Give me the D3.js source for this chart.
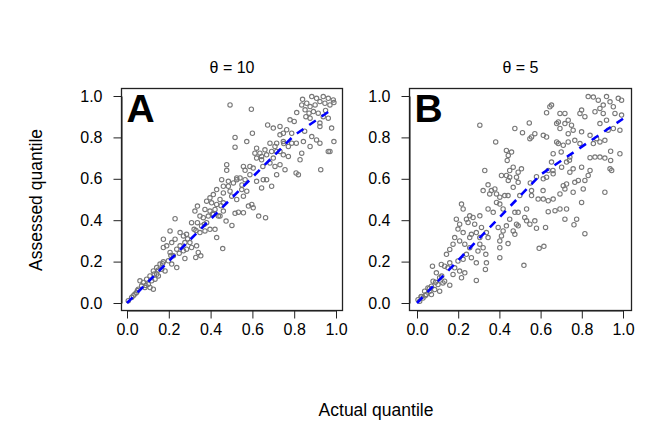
<!DOCTYPE html>
<html>
<head>
<meta charset="utf-8">
<script src="https://cdn.jsdelivr.net/npm/d3@7"></script>
<style>
  body { margin: 0; background: #fff; }
  text { font-family: "Liberation Sans", Arial, sans-serif; fill: #000; }
</style>
</head>
<body>
<svg width="664" height="443"></svg>
<script>
const svg = d3.select('svg')

const tickValues = [0, 0.2, 0.4, 0.6, 0.8, 1.0]

// panel A, theta = 10
const actualA = [0.84, 0.884, 0.907, 0.939, 0.963, 0.987, 0.99, 0.86, 0.876, 0.9, 0.923, 0.947, 0.971, 0.852, 0.871, 0.892, 0.915, 0.939, 0.963, 0.979, 0.876, 0.856, 0.923, 0.812, 0.836, 0.99, 0.963, 0.971, 0.927, 0.923,
  0.493, 0.595, 0.673, 0.70, 0.60, 0.517, 0.517, 0.573, 0.78, 0.80, 0.764, 0.788, 0.732, 0.716, 0.748, 0.772, 0.81, 0.844, 0.884, 0.907, 0.923, 0.876, 0.836, 0.828, 0.809, 0.82,
  0.62, 0.636, 0.66, 0.684, 0.708, 0.716, 0.644, 0.684, 0.708, 0.732, 0.756, 0.716, 0.652, 0.62, 0.668, 0.692, 0.644, 0.604, 0.588, 0.557, 0.565, 0.541, 0.525,
  0.477, 0.477, 0.453, 0.461, 0.485, 0.493, 0.509, 0.501, 0.525, 0.549, 0.573, 0.557, 0.581, 0.597, 0.604, 0.63, 0.663, 0.557, 0.533, 0.517, 0.502, 0.474, 0.445, 0.461,
  0.429, 0.413, 0.397, 0.381, 0.405, 0.429, 0.445, 0.461, 0.421, 0.397, 0.373, 0.389, 0.413, 0.437, 0.337, 0.325, 0.349, 0.365, 0.381, 0.357, 0.337, 0.309, 0.321, 0.349, 0.373, 0.397, 0.421, 0.429,
  0.23, 0.206, 0.174, 0.19, 0.214, 0.23, 0.254, 0.27, 0.285, 0.301, 0.277, 0.254, 0.238, 0.27, 0.285, 0.309, 0.333, 0.341, 0.329, 0.353, 0.277, 0.458,
  0.174, 0.206, 0.222, 0.198, 0.174, 0.158, 0.142, 0.126, 0.166, 0.238, 0.214, 0.182, 0.142, 0.11, 0.094, 0.078, 0.07, 0.054, 0.038, 0.022, 0.006, 0.102, 0.118, 0.126, 0.11, 0.134, 0.15, 0.062, 0.086, 0.046,
  0.461, 0.485, 0.525, 0.565, 0.588, 0.62, 0.612, 0.644, 0.668, 0.692, 0.70, 0.732, 0.748, 0.772, 0.788, 0.748, 0.732,
  0.03, 0.05, 0.09, 0.13, 0.15, 0.17, 0.21, 0.25, 0.29, 0.33, 0.37, 0.41, 0.45, 0.55, 0.65, 0.75, 0.85, 0.95]
const assessedA = [0.984, 0.997, 0.989, 0.997, 0.989, 0.981, 0.968, 0.965, 0.949, 0.957, 0.973, 0.965, 0.957, 0.933, 0.917, 0.925, 0.917, 0.90, 0.893, 0.845, 0.893, 0.90, 0.869, 0.92, 0.957, 0.78, 0.732, 0.732, 0.644, 0.853,
  0.957, 0.936, 0.86, 0.845, 0.82, 0.80, 0.753, 0.78, 0.885, 0.877, 0.837, 0.82, 0.8125, 0.772, 0.78, 0.756, 0.772, 0.78, 0.804, 0.788, 0.772, 0.756, 0.724, 0.692, 0.628, 0.62,
  0.748, 0.724, 0.74, 0.772, 0.756, 0.732, 0.692, 0.676, 0.66, 0.668, 0.644, 0.62, 0.596, 0.588, 0.596, 0.564, 0.556, 0.652, 0.62, 0.66, 0.596, 0.604, 0.596,
  0.668, 0.641, 0.596, 0.564, 0.564, 0.54, 0.58, 0.516, 0.50, 0.548, 0.54, 0.516, 0.468, 0.476, 0.46, 0.42, 0.412, 0.436, 0.439, 0.433, 0.375, 0.396, 0.42, 0.444,
  0.548, 0.524, 0.508, 0.492, 0.484, 0.476, 0.50, 0.484, 0.452, 0.444, 0.452, 0.42, 0.428, 0.42, 0.468, 0.444, 0.42, 0.412, 0.388, 0.372, 0.388, 0.388, 0.356, 0.34, 0.348, 0.356, 0.356, 0.316,
  0.407, 0.348, 0.308, 0.276, 0.292, 0.308, 0.34, 0.324, 0.332, 0.292, 0.292, 0.276, 0.26, 0.252, 0.26, 0.268, 0.276, 0.244, 0.22, 0.228, 0.215, 0.263,
  0.268, 0.244, 0.228, 0.204, 0.199, 0.188, 0.171, 0.155, 0.163, 0.171, 0.188, 0.155, 0.139, 0.131, 0.115, 0.099, 0.083, 0.067, 0.043, 0.027, 0.011, 0.091, 0.107, 0.067, 0.075, 0.115, 0.131, 0.107, 0.075, 0.051,
  0.532, 0.588, 0.604, 0.641, 0.66, 0.70, 0.724, 0.708, 0.716, 0.732, 0.70, 0.732, 0.716, 0.708, 0.772, 0.82, 0.853,
  0.035, 0.06, 0.085, 0.14, 0.16, 0.19, 0.23, 0.24, 0.31, 0.35, 0.38, 0.43, 0.47, 0.57, 0.66, 0.77, 0.83, 0.93]

// panel B, theta = 5
const actualB = [0.831, 0.856, 0.88, 0.92, 0.937, 0.977, 0.993, 0.904, 0.953, 0.888, 0.864, 0.904, 0.799, 0.791, 0.815, 0.993, 0.961, 0.92, 0.888, 0.953, 0.985, 0.928, 0.912, 0.888, 0.856, 0.872, 0.84, 0.799,
  0.985, 0.94, 0.94, 0.912, 0.888, 0.864, 0.84, 0.937, 0.945, 0.912, 0.815, 0.799, 0.762, 0.775, 0.718, 0.726, 0.694, 0.67, 0.637, 0.637, 0.661, 0.613, 0.588, 0.556, 0.556, 0.612,
  0.694, 0.758, 0.718, 0.71, 0.726, 0.766, 0.783, 0.815, 0.807, 0.831, 0.84, 0.799, 0.758, 0.742, 0.726, 0.742, 0.702, 0.661, 0.629, 0.613, 0.653, 0.661, 0.686, 0.678, 0.71, 0.734, 0.766, 0.791,
  0.734, 0.758, 0.694, 0.718, 0.686, 0.678, 0.694, 0.718, 0.734, 0.75, 0.629, 0.645, 0.653, 0.613, 0.629, 0.572, 0.556, 0.548, 0.545, 0.512, 0.475, 0.305, 0.382,
  0.434, 0.459, 0.443, 0.438, 0.45, 0.467, 0.491, 0.507, 0.41, 0.434, 0.45, 0.483, 0.491, 0.467, 0.443, 0.329, 0.345, 0.321, 0.361, 0.378, 0.386, 0.353, 0.402, 0.426, 0.442, 0.499,
  0.402, 0.386, 0.345, 0.37, 0.418, 0.475, 0.491, 0.532, 0.523, 0.532, 0.483, 0.491, 0.45, 0.434, 0.418, 0.394, 0.467, 0.475, 0.442, 0.41, 0.402, 0.402, 0.402, 0.519, 0.58, 0.624, 0.593, 0.616, 0.572, 0.548,
  0.216, 0.224, 0.191, 0.207, 0.24, 0.256, 0.272, 0.305, 0.248, 0.28, 0.313, 0.288, 0.264, 0.224, 0.337, 0.345, 0.305, 0.321, 0.296, 0.334, 0.337, 0.288, 0.332, 0.288,
  0.232, 0.256, 0.24, 0.264, 0.224, 0.199, 0.175, 0.159, 0.143, 0.118, 0.134, 0.159, 0.183, 0.207, 0.232, 0.216, 0.175, 0.159, 0.134, 0.11, 0.075, 0.094, 0.126, 0.102, 0.086, 0.07, 0.062, 0.045, 0.029, 0.013,
  0.053, 0.037, 0.078, 0.11, 0.07, 0.021, 0.005, 0.183, 0.207, 0.256, 0.305, 0.199,
  0.637, 0.66, 0.55, 0.58, 0.70, 0.74, 0.02, 0.04, 0.06, 0.09, 0.12, 0.15]
const assessedB = [0.997, 0.995, 0.98, 0.997, 0.972, 0.989, 0.98, 0.956, 0.948, 0.94, 0.924, 0.916, 0.932, 0.916, 0.90, 0.908, 0.916, 0.883, 0.867, 0.843, 0.835, 0.835, 0.786, 0.778, 0.77, 0.794, 0.81, 0.827,
  0.721, 0.733, 0.689, 0.70, 0.705, 0.705, 0.702, 0.648, 0.64, 0.535, 0.335, 0.486, 0.378, 0.405, 0.405, 0.454, 0.454, 0.446, 0.441, 0.494, 0.502, 0.502, 0.502, 0.519, 0.543, 0.543,
  0.527, 0.535, 0.551, 0.567, 0.575, 0.583, 0.592, 0.592, 0.551, 0.616, 0.64, 0.656, 0.648, 0.632, 0.681, 0.705, 0.656, 0.624, 0.608, 0.60, 0.681, 0.721, 0.77, 0.778, 0.762, 0.778, 0.786, 0.77,
  0.818, 0.835, 0.843, 0.867, 0.875, 0.867, 0.916, 0.916, 0.883, 0.859, 0.919, 0.948, 0.956, 0.81, 0.802, 0.818, 0.802, 0.794, 0.87, 0.823, 0.843, 0.859, 0.778,
  0.737, 0.729, 0.713, 0.689, 0.64, 0.656, 0.632, 0.648, 0.616, 0.616, 0.608, 0.608, 0.583, 0.559, 0.592, 0.64, 0.571, 0.543, 0.543, 0.551, 0.527, 0.527, 0.511, 0.519, 0.519, 0.519,
  0.478, 0.486, 0.454, 0.438, 0.454, 0.438, 0.438, 0.454, 0.413, 0.397, 0.381, 0.373, 0.405, 0.373, 0.348, 0.365, 0.348, 0.332, 0.287, 0.324, 0.30, 0.267, 0.219, 0.182, 0.361, 0.365, 0.264, 0.274, 0.397, 0.381,
  0.478, 0.454, 0.405, 0.381, 0.405, 0.421, 0.413, 0.421, 0.389, 0.381, 0.365, 0.34, 0.332, 0.34, 0.34, 0.316, 0.284, 0.267, 0.251, 0.235, 0.194, 0.194, 0.162, 0.109,
  0.284, 0.267, 0.235, 0.219, 0.211, 0.203, 0.284, 0.259, 0.235, 0.186, 0.178, 0.194, 0.17, 0.154, 0.146, 0.122, 0.138, 0.086, 0.105, 0.122, 0.178, 0.146, 0.097, 0.089, 0.065, 0.081, 0.057, 0.041, 0.024, 0.008,
  0.073, 0.057, 0.105, 0.057, 0.041, 0.032, 0.016, 0.316, 0.30, 0.316, 0.316, 0.357,
  0.64, 0.64, 0.58, 0.61, 0.73, 0.69, 0.03, 0.035, 0.07, 0.1, 0.13, 0.17]

// blue dashed reference curves
const lineXA = [0, 0.8, 0.98]
const lineYA = [0, 0.81, 0.935]
const lineXB = [0, 0.6, 1.0]
const lineYB = [0, 0.62, 0.89]

const panel = (selection, props) => {
  const { actual, assessed, lineX, lineY, left, right, x0, x1, title, letter } = props
  const top = 88.5, bottom = 310.5

  const x = d3.scaleLinear().domain([0, 1]).range([x0, x1])
  const y = d3.scaleLinear().domain([0, 1]).range([303, 96])

  const pts = actual.map((d, i) => [d, assessed[i]])
  selection.append('g').selectAll('circle')
    .data(pts)
    .enter().append('circle')
      .attr('cx', d => x(d[0]))
      .attr('cy', d => y(d[1]))
      .attr('r', 2.2)
      .attr('fill', 'none')
      .attr('stroke', '#777')
      .attr('stroke-width', 1.1)

  const line = d3.line().x(d => x(d[0])).y(d => y(d[1]))
  selection.append('path')
    .datum(lineX.map((d, i) => [d, lineY[i]]))
    .attr('d', line)
    .attr('fill', 'none')
    .attr('stroke', '#0000ff')
    .attr('stroke-width', 2.6)
    .attr('stroke-dasharray', '8,7')

  selection.append('rect')
    .attr('x', left).attr('y', top)
    .attr('width', right - left).attr('height', bottom - top)
    .attr('fill', 'none')
    .attr('stroke', '#222')
    .attr('stroke-width', 1.3)

  const xAxis = d3.axisBottom(x).tickValues(tickValues).tickFormat(d3.format('.1f'))
    .tickSizeInner(8).tickSizeOuter(0).tickPadding(5)
  const gx = selection.append('g')
    .attr('transform', `translate(0, ${bottom})`)
    .call(xAxis)
  gx.select('.domain').attr('stroke', '#222')
  gx.selectAll('line').attr('stroke', '#222')
  gx.selectAll('text').attr('font-size', 16).attr('font-family', '"Liberation Sans", Arial, sans-serif')

  const yAxis = d3.axisLeft(y).tickValues(tickValues).tickFormat(d3.format('.1f'))
    .tickSizeInner(8).tickSizeOuter(0).tickPadding(11)
  const gy = selection.append('g')
    .attr('transform', `translate(${left}, 0)`)
    .call(yAxis)
  gy.select('.domain').attr('stroke', '#222')
  gy.selectAll('line').attr('stroke', '#222')
  gy.selectAll('text').attr('font-size', 16).attr('font-family', '"Liberation Sans", Arial, sans-serif')

  selection.append('text')
    .attr('x', (left + right) / 2)
    .attr('y', 73)
    .attr('text-anchor', 'middle')
    .attr('font-size', 16)
    .text(title)

  selection.append('text')
    .attr('x', left + 5)
    .attr('y', 122)
    .attr('font-size', 39)
    .attr('font-weight', 'bold')
    .text(letter)
}

svg.append('g').call(panel, {
  actual: actualA, assessed: assessedA, lineX: lineXA, lineY: lineYA,
  left: 121.5, right: 342.5, x0: 127, x1: 336, title: 'θ = 10', letter: 'A'
})

svg.append('g').call(panel, {
  actual: actualB, assessed: assessedB, lineX: lineXB, lineY: lineYB,
  left: 409.5, right: 631.5, x0: 417, x1: 623, title: 'θ = 5', letter: 'B'
})

svg.append('text')
  .attr('x', 376)
  .attr('y', 416)
  .attr('text-anchor', 'middle')
  .attr('font-size', 17.5)
  .text('Actual quantile')

svg.append('text')
  .attr('transform', 'translate(42, 200) rotate(-90)')
  .attr('text-anchor', 'middle')
  .attr('font-size', 17.5)
  .text('Assessed quantile')
</script>
</body>
</html>
